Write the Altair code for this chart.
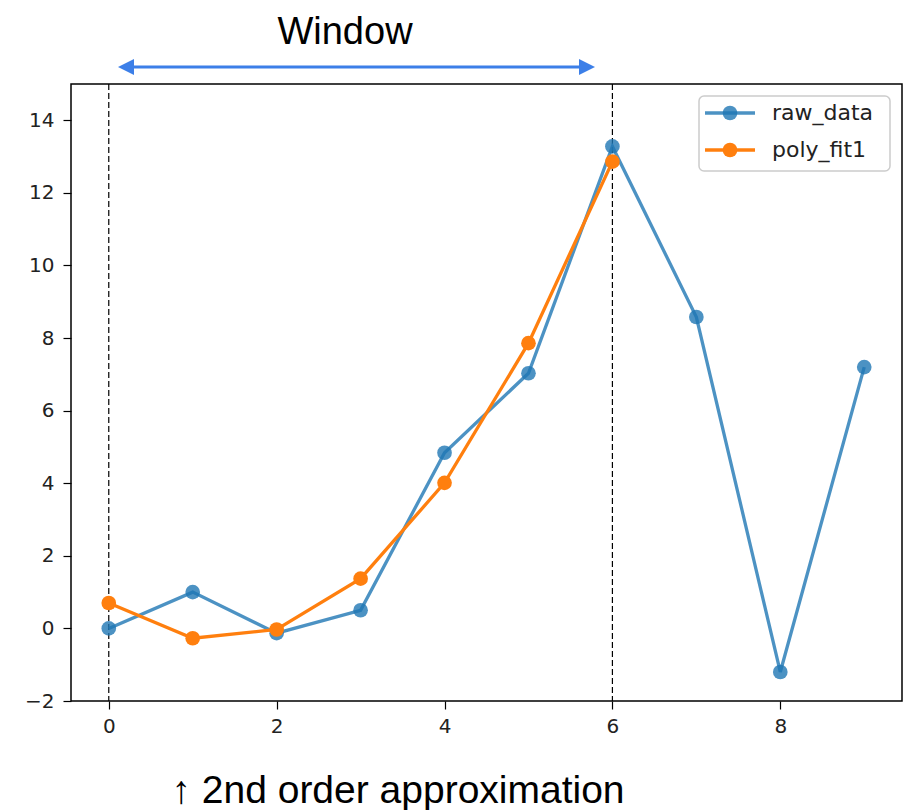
import altair as alt
import pandas as pd

# ---- data ----
x_raw = [0, 1, 2, 3, 4, 5, 6, 7, 8, 9]
raw_data = [0.0, 1.0, -0.13, 0.5, 4.84, 7.03, 13.28, 8.58, -1.2, 7.2]
x_fit = [0, 1, 2, 3, 4, 5, 6]
poly_fit1 = [0.7, -0.27, -0.03, 1.37, 4.01, 7.86, 12.86]
series_names = ["raw_data", "poly_fit1"]
series_colors = ["#1f77b4", "#ff7f0e"]
series_opacity = [0.8, 1.0]
window_bounds = [0, 6]
x_ticks = [0, 2, 4, 6, 8]
y_ticks = [-2, 0, 2, 4, 6, 8, 10, 12, 14]
title_text = "Window"
note_text = "\u2191 2nd order approximation"

W, H = 831, 617

raw_df = pd.DataFrame({"x": x_raw, "y": raw_data, "series": series_names[0]})
fit_df = pd.DataFrame({"x": x_fit, "y": poly_fit1, "series": series_names[1]})
win_df = pd.DataFrame({"x": window_bounds})
leg_df = pd.DataFrame({"series": series_names, "i": list(range(len(series_names)))})
one = pd.DataFrame({"a": [0]})

xs = alt.Scale(domain=[-0.45, 9.45], nice=False, zero=False)
ys = alt.Scale(domain=[-2, 15], nice=False, zero=False)
cs = alt.Scale(domain=series_names, range=series_colors)
os_ = alt.Scale(domain=series_names, range=series_opacity)

xaxis = alt.Axis(values=x_ticks, title=None, grid=False, domain=False, tickSize=8,
                 tickWidth=1.2, tickColor="black", labelFontSize=20, labelColor="#222",
                 labelFont="DejaVu Sans", labelPadding=7, format="d")
yaxis = alt.Axis(values=y_ticks, title=None, grid=False, domain=False, tickSize=8,
                 tickWidth=1.2, tickColor="black", labelFontSize=20, labelColor="#222",
                 labelFont="DejaVu Sans", labelPadding=9, format="d")


def series_layers(df):
    base = alt.Chart(df).encode(
        x=alt.X("x:Q", scale=xs, axis=xaxis),
        y=alt.Y("y:Q", scale=ys, axis=yaxis),
        color=alt.Color("series:N", scale=cs, legend=None),
        opacity=alt.Opacity("series:N", scale=os_, legend=None),
    )
    line = base.mark_line(strokeWidth=3.3)
    pts = base.mark_point(filled=True, size=215, shape="circle")
    return [line, pts]


rules = alt.Chart(win_df).mark_rule(color="black", strokeWidth=1.2, strokeDash=[6, 3]).encode(
    x=alt.X("x:Q", scale=xs, axis=xaxis)
)

title = alt.Chart(one).mark_text(text=title_text, fontSize=38, font="Liberation Sans",
                                 align="center", baseline="alphabetic", color="black").encode(
    x=alt.value(274), y=alt.value(-40)
)
arrow_col = "#3c7fe8"
arrow_line = alt.Chart(one).mark_rule(color=arrow_col, strokeWidth=3).encode(
    x=alt.value(56), x2=alt.value(516), y=alt.value(-17)
)
head_l = alt.Chart(one).mark_point(shape="M0,0L2,-1L2,1Z", size=256, filled=True,
                                   color=arrow_col, opacity=1).encode(
    x=alt.value(47), y=alt.value(-17)
)
head_r = alt.Chart(one).mark_point(shape="M0,0L-2,-1L-2,1Z", size=256, filled=True,
                                   color=arrow_col, opacity=1).encode(
    x=alt.value(524), y=alt.value(-17)
)
note = alt.Chart(one).mark_text(text=note_text, fontSize=39, font="Liberation Sans",
                                align="center", baseline="alphabetic", color="black").encode(
    x=alt.value(327), y=alt.value(719)
)

# legend
leg_box = alt.Chart(one).mark_rect(fill="white", stroke="#cccccc", strokeWidth=1.5,
                                   cornerRadius=5).encode(
    x=alt.value(628), x2=alt.value(819), y=alt.value(12), y2=alt.value(87)
)
leg_base = alt.Chart(leg_df).transform_calculate(py="29 + 37 * datum.i")
leg_line = leg_base.mark_rule(strokeWidth=3.3).encode(
    x=alt.value(634), x2=alt.value(684), y=alt.Y("py:Q", scale=None),
    color=alt.Color("series:N", scale=cs, legend=None),
    opacity=alt.Opacity("series:N", scale=os_, legend=None),
)
leg_pt = leg_base.mark_point(filled=True, size=215, shape="circle").encode(
    x=alt.value(659), y=alt.Y("py:Q", scale=None),
    color=alt.Color("series:N", scale=cs, legend=None),
    opacity=alt.Opacity("series:N", scale=os_, legend=None),
)
leg_txt = leg_base.mark_text(align="left", baseline="middle", fontSize=22,
                             font="DejaVu Sans", color="#222").encode(
    x=alt.value(701), y=alt.Y("py:Q", scale=None), text="series:N"
)

chart = alt.layer(
    rules,
    *series_layers(raw_df),
    *series_layers(fit_df),
    leg_box, leg_line, leg_pt, leg_txt,
    title, arrow_line, head_l, head_r, note,
).properties(
    width=W, height=H,
    autosize=alt.AutoSizeParams(type="none"),
    padding={"left": 71, "top": 84, "right": 6, "bottom": 109},
    background="white",
).configure_view(stroke="black", strokeWidth=1.5)

chart.save("out.html", embed_options={"renderer": "svg", "actions": False})
